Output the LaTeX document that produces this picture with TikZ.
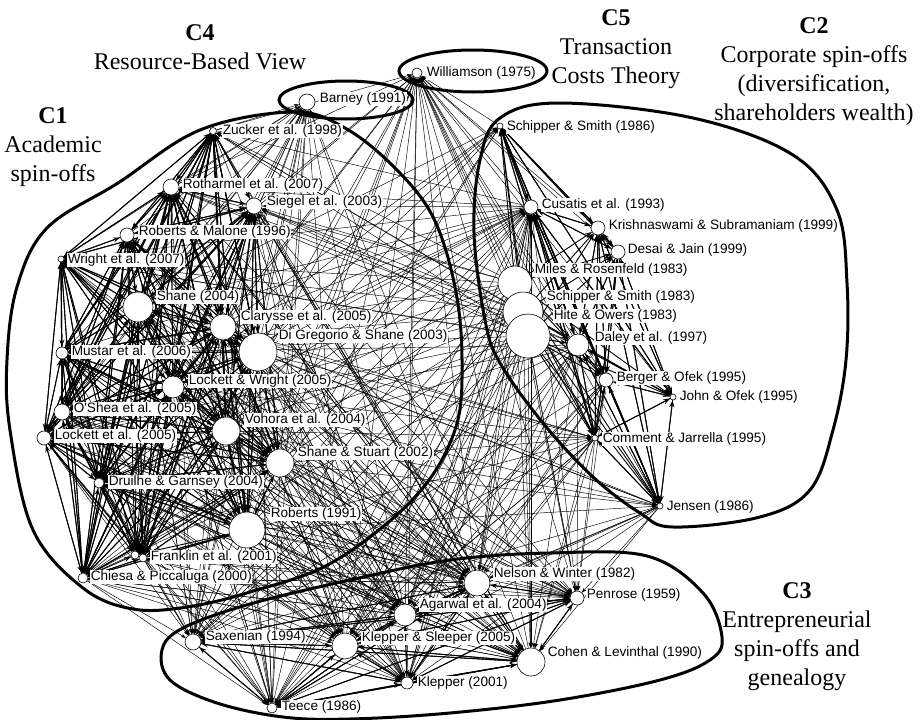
\documentclass[tikz,border=0pt]{standalone}
\usepackage{fontspec}
\setmainfont{Liberation Serif}
\newfontfamily\lblfont{Liberation Sans}
\usetikzlibrary{arrows.meta}
\pgfdeclarelayer{paperlayer}
\pgfdeclarelayer{edgelayer}
\pgfdeclarelayer{hulllayer}
\pgfsetlayers{paperlayer,edgelayer,hulllayer,main}

\begin{document}
\begin{tikzpicture}[x=1pt,y=-1pt,
  dot/.style={circle, draw, fill=white, line width=0.6pt, inner sep=0pt, minimum size=#1},
  lbl/.style={anchor=west, fill=white, inner sep=0.6pt, font=\lblfont\fontsize{13.6}{14}\selectfont},
  edge/.style={line width=0.9pt, -{Stealth[length=7pt,width=5pt]}},
  far/.style={line width=0.45pt, -{Stealth[length=5pt,width=3.6pt]}},
  hull/.style={line width=3pt},
  head/.style={align=center, font=\fontsize{24}{29}\selectfont}]

\begin{pgfonlayer}{paperlayer}
\fill[white] (0,0) rectangle (921,720);
\end{pgfonlayer}
\useasboundingbox (0,0) rectangle (921,720);

% ---------- C1: academic spin-offs ----------
\node[dot=7pt]  (zuc) at (213,131) {};
\node[dot=16pt] (rot) at (171,187) {};
\node[dot=16pt] (sie) at (254,206) {};
\node[dot=14pt] (rma) at (127,235) {};
\node[dot=6pt]  (wri) at (61,259) {};
\node[dot=30pt] (sha) at (138,307) {};
\node[dot=26pt] (cla) at (223,327) {};
\node[dot=38pt] (dig) at (258,352) {};
\node[dot=12pt] (mus) at (62,353) {};
\node[dot=22pt] (lwr) at (173,387) {};
\node[dot=16pt] (osh) at (62,412) {};
\node[dot=28pt] (voh) at (226,431) {};
\node[dot=14pt] (let) at (44,438) {};
\node[dot=28pt] (sst) at (280,463) {};
\node[dot=10pt] (dru) at (99,483) {};
\node[dot=36pt] (rob) at (247,530) {};
\node[dot=8pt]  (frb) at (135,555) {};
\node[dot=8pt]  (fra) at (143,558) {};
\node[dot=10pt] (chi) at (83,578) {};

% ---------- C4 / C5 ----------
\node[dot=16pt] (bar) at (307,102) {};
\node[dot=10pt] (wil) at (417,73) {};

% ---------- C2: corporate spin-offs ----------
\node[dot=6pt]  (s86) at (500,126) {};
\node[dot=14pt] (cus) at (531,207) {};
\node[dot=14pt] (kri) at (598,228) {};
\node[dot=14pt] (des) at (618,252) {};
\node[dot=34pt] (mil) at (515,283) {};
\node[dot=40pt] (s83) at (523,312) {};
\node[dot=44pt] (hit) at (528,336) {};
\node[dot=22pt] (dal) at (578,345) {};
\node[dot=14pt] (ber) at (606,380) {};
\node[dot=6pt]  (joh) at (673,397) {};
\node[dot=6pt]  (com) at (595,438) {};
\node[dot=6pt]  (jen) at (660,506) {};

% ---------- C3: entrepreneurial spin-offs ----------
\node[dot=26pt] (nel) at (477,583) {};
\node[dot=14pt] (pen) at (577,598) {};
\node[dot=22pt] (aga) at (405,615) {};
\node[dot=16pt] (sax) at (193,642) {};
\node[dot=26pt] (kls) at (345,646) {};
\node[dot=28pt] (coh) at (531,662) {};
\node[dot=12pt] (kle) at (407,683) {};
\node[dot=10pt] (tee) at (272,708) {};

% ---------- citation links ----------
\begin{pgfonlayer}{edgelayer}
% within C1
\foreach \t in {zuc,rot,sie,rma,wri,sha,cla,dig,mus,lwr,osh,voh,let,sst,dru,rob,fra,frb,chi}
  \foreach \s in {zuc,rot,sie,rma,wri,sha,cla,dig,mus,lwr,osh,voh,let,sst,dru,rob,fra,chi}
    {\ifx\s\t\else\draw[edge] (\s) -- (\t);\fi}
% within C2
\foreach \t in {s86,cus,kri,des,joh,com,jen,ber,dal}
  \foreach \s in {s86,cus,kri,des,mil,s83,hit,dal,ber,joh,com,jen}
    {\ifx\s\t\else\draw[edge] (\s) -- (\t);\fi}
% within C3
\foreach \t in {tee,sax,kls,kle,aga,nel,pen,coh}
  \foreach \s in {tee,sax,kls,kle,aga,nel,pen,coh}
    {\ifx\s\t\else\draw[edge] (\s) -- (\t);\fi}
% towards Barney and Williamson
\foreach \s in {zuc,rot,sie,rma,wri,sha,cla,dig,mus,lwr,osh,voh,let,sst,dru,rob,fra,chi,aga,kls,nel,coh,sax,tee}
  \draw[far] (\s) -- (bar);
\foreach \s in {zuc,rot,sie,sha,cla,dig,lwr,voh,sst,rob,s86,cus,kri,des,mil,s83,hit,dal,ber,joh,com,jen,nel,pen,aga,kls,coh,kle,sax,tee}
  \draw[far] (\s) -- (wil);
% from C1 and C2 towards C3
\foreach \t in {sax,tee,kls,kle,aga,nel,pen,coh}
  \foreach \s in {rot,sie,rma,sha,cla,dig,mus,lwr,osh,voh,let,sst,dru,rob,fra,chi,mil,s83,hit,dal,cus,ber,com,jen}
    {\draw[far] (\s) -- (\t);}
% between C1 and C2
\foreach \t in {zuc,rot,sie,wri,mus,let,chi,dru}
  \foreach \s in {mil,s83,hit,dal,cus,nel,coh,aga}
    {\draw[far] (\s) -- (\t);}
\foreach \t in {s86,cus,jen,com}
  \foreach \s in {sha,cla,dig,voh,sst,rob,lwr}
    {\draw[far] (\s) -- (\t);}
\end{pgfonlayer}

% ---------- cluster outlines ----------
\begin{pgfonlayer}{hulllayer}
\draw[hull] plot[smooth cycle, tension=0.6] coordinates {
  (293,112) (345,128) (395,168) (433,217) (455,287) (462,360) (455,430)
  (415,497) (333,562) (250,592) (187,607) (133,609) (83,588) (33,530)
  (10,430) (7,360) (17,287) (47,228) (118,183) (200,130)};
\draw[hull] (346,100) ellipse [x radius=67, y radius=19];
\draw[hull] (473,71) ellipse [x radius=74, y radius=21];
\draw[hull] plot[smooth cycle, tension=0.6] coordinates {
  (500,118) (560,103) (693,118) (793,155) (837,210) (847,283) (846,360)
  (833,430) (810,490) (760,517) (673,527) (640,513) (593,477) (543,423)
  (500,363) (485,320) (474,233) (480,160)};
\draw[hull] plot[smooth cycle, tension=0.6] coordinates {
  (183,628) (250,604) (350,580) (450,560) (550,553) (647,556) (703,593)
  (722,637) (710,660) (660,680) (560,700) (450,713) (350,719) (283,717)
  (217,703) (170,680) (162,650)};
\end{pgfonlayer}

% ---------- labels ----------
\node[lbl] (zucL) at (222,131) {Zucker et al. (1998)};
\node[lbl] (rotL) at (182,185) {Rotharmel et al. (2007)};
\node[lbl] (sieL) at (266,202) {Siegel et al. (2003)};
\node[lbl] (rmaL) at (138,232) {Roberts \& Malone (1996)};
\node[lbl] (wriL) at (67,260) {Wright et al. (2007)};
\node[lbl] (shaL) at (156,297) {Shane (2004)};
\node[lbl] (claL) at (240,317) {Clarysse et al. (2005)};
\node[lbl] (digL) at (278,336) {Di Gregorio \& Shane (2003)};
\node[lbl] (musL) at (71,352) {Mustar et al. (2006)};
\node[lbl] (lwrL) at (188,381) {Lockett \& Wright (2005)};
\node[lbl] (oshL) at (73,409) {O'Shea et al. (2005)};
\node[lbl] (vohL) at (244,420) {Vohora et al. (2004)};
\node[lbl] (letL) at (54,436) {Lockett et al. (2005)};
\node[lbl] (sstL) at (297,453) {Shane \& Stuart (2002)};
\node[lbl] (druL) at (108,482) {Druilhe \& Garnsey (2004)};
\node[lbl] (robL) at (270,514) {Roberts (1991)};
\node[lbl] (fraL) at (150,557) {Franklin et al. (2001)};
\node[lbl] (chiL) at (90,577) {Chiesa \& Piccaluga (2000)};
\node[lbl] (barL) at (319,99) {Barney (1991)};
\node[lbl] (wilL) at (426,73) {Williamson (1975)};
\node[lbl] (s86L) at (506,127) {Schipper \& Smith (1986)};
\node[lbl] (cusL) at (541,205) {Cusatis et al. (1993)};
\node[lbl] (kriL) at (608,226) {Krishnaswami \& Subramaniam (1999)};
\node[lbl] (desL) at (627,250) {Desai \& Jain (1999)};
\node[lbl] (milL) at (534,270) {Miles \& Rosenfeld (1983)};
\node[lbl] (s83L) at (546,297) {Schipper \& Smith (1983)};
\node[lbl] (hitL) at (553,316) {Hite \& Owers (1983)};
\node[lbl] (dalL) at (594,338) {Daley et al. (1997)};
\node[lbl] (berL) at (616,378) {Berger \& Ofek (1995)};
\node[lbl] (johL) at (679,397) {John \& Ofek (1995)};
\node[lbl] (comL) at (602,439) {Comment \& Jarrella (1995)};
\node[lbl] (jenL) at (666,507) {Jensen (1986)};
\node[lbl] (nelL) at (493,574) {Nelson \& Winter (1982)};
\node[lbl] (penL) at (586,595) {Penrose (1959)};
\node[lbl] (agaL) at (419,605) {Agarwal et al. (2004)};
\node[lbl] (saxL) at (205,637) {Saxenian (1994)};
\node[lbl] (klsL) at (361,638) {Klepper \& Sleeper (2005)};
\node[lbl] (cohL) at (547,653) {Cohen \& Levinthal (1990)};
\node[lbl] (kleL) at (417,683) {Klepper (2001)};
\node[lbl] (teeL) at (281,707) {Teece (1986)};

% ---------- cluster titles ----------
\node[head] (c4) at (200,47) {\textbf{C4}\\Resource-Based View};
\node[head] (c5) at (616,49) {\textbf{C5}\\Transaction\\Costs Theory};
\node[head] (c2) at (814,72) {\textbf{C2}\\Corporate spin-offs\\(diversification,\\shareholders wealth)};
\node[head] (c1) at (53,147) {\textbf{C1}\\Academic\\spin-offs};
\node[head] (c3) at (797,637) {\textbf{C3}\\Entrepreneurial\\spin-offs and\\genealogy};
\end{tikzpicture}
\end{document}
